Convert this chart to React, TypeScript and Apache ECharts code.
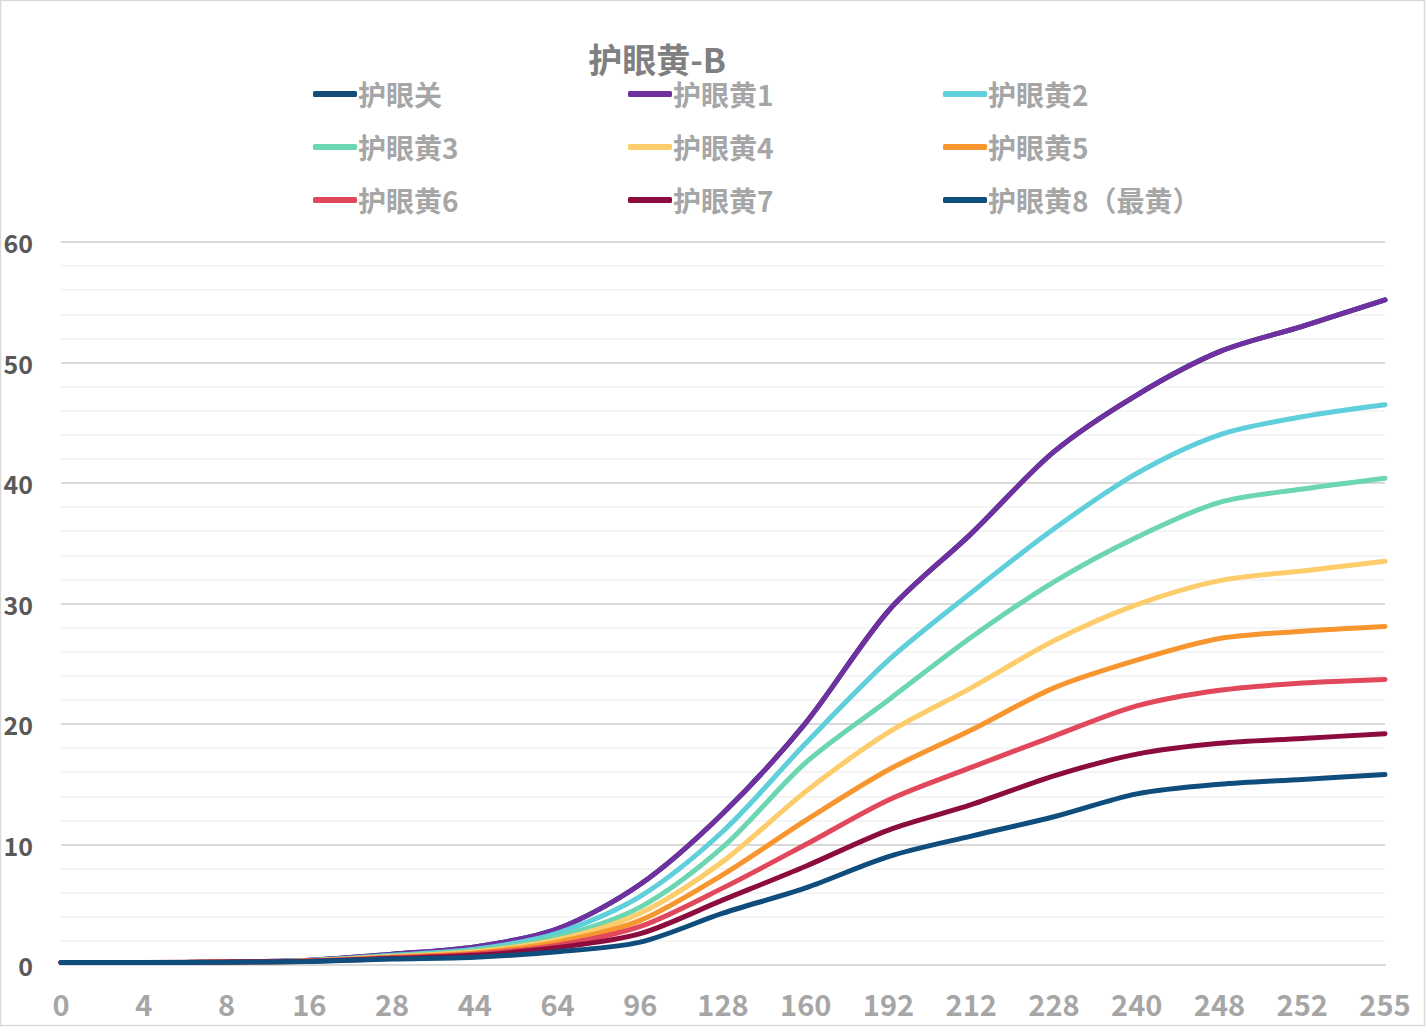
import React, { useEffect, useRef } from "react";
import * as echarts from "echarts";

const categories = ["0", "4", "8", "16", "28", "44", "64", "96", "128", "160", "192", "212", "228", "240", "248", "252", "255"];

const seriesNames = ["护眼关", "护眼黄1", "护眼黄2", "护眼黄3", "护眼黄4", "护眼黄5", "护眼黄6", "护眼黄7", "护眼黄8（最黄）"];

const offValues = [0.2, 0.2, 0.25, 0.4, 0.9, 1.5, 3.0, 6.7, 12.6, 20.1, 29.4, 35.8, 42.6, 47.3, 50.9, 53.0, 55.2];
const yellow1 = [0.2, 0.2, 0.25, 0.4, 0.9, 1.5, 3.0, 6.7, 12.6, 20.1, 29.4, 35.8, 42.6, 47.3, 50.9, 53.0, 55.2];
const yellow2 = [0.2, 0.2, 0.25, 0.38, 0.8, 1.3, 2.65, 5.7, 11.1, 18.4, 25.3, 30.9, 36.2, 40.8, 44.0, 45.5, 46.5];
const yellow3 = [0.2, 0.2, 0.25, 0.36, 0.75, 1.2, 2.35, 4.8, 9.8, 16.8, 22.0, 27.2, 31.8, 35.5, 38.4, 39.5, 40.4];
const yellow4 = [0.2, 0.2, 0.25, 0.35, 0.7, 1.1, 2.1, 4.3, 8.6, 14.4, 19.3, 23.0, 26.9, 29.9, 31.9, 32.7, 33.5];
const yellow5 = [0.2, 0.2, 0.25, 0.34, 0.65, 1.0, 1.9, 3.7, 7.5, 12.0, 16.2, 19.5, 23.0, 25.3, 27.1, 27.7, 28.1];
const yellow6 = [0.2, 0.2, 0.25, 0.33, 0.6, 0.9, 1.65, 3.2, 6.4, 10.0, 13.7, 16.4, 19.0, 21.5, 22.8, 23.4, 23.7];
const yellow7 = [0.2, 0.2, 0.25, 0.32, 0.55, 0.8, 1.45, 2.6, 5.4, 8.2, 11.2, 13.3, 15.7, 17.5, 18.4, 18.8, 19.2];
const yellow8 = [0.2, 0.2, 0.22, 0.3, 0.5, 0.65, 1.1, 1.9, 4.3, 6.4, 9.0, 10.7, 12.3, 14.2, 15.0, 15.4, 15.8];

const seriesValues = [offValues, yellow1, yellow2, yellow3, yellow4, yellow5, yellow6, yellow7, yellow8];
const seriesColors = ["#134d78", "#7030a0", "#5fcfdb", "#6cd6b0", "#fdcc6b", "#f7962f", "#e2485c", "#8c0c3e", "#0f4d7c"];

const legendColumns = [
  ["护眼关", "护眼黄3", "护眼黄6"],
  ["护眼黄1", "护眼黄4", "护眼黄7"],
  ["护眼黄2", "护眼黄5", "护眼黄8（最黄）"],
];
const legendLefts = [308, 623, 938];

const FONT = "'Noto Sans CJK SC', 'Noto Sans', sans-serif";

export default function App() {
  const ref = useRef<HTMLDivElement>(null);

  useEffect(() => {
    if (!ref.current) return;
    const chart = echarts.init(ref.current, undefined, { renderer: "svg" });

    const legends = legendColumns.map((col, i) => ({
      orient: "vertical",
      left: legendLefts[i],
      top: 75,
      data: col,
      icon: "roundRect",
      itemWidth: 44,
      itemHeight: 6,
      itemGap: 25,
      selectedMode: false,
      textStyle: {
        color: "#a6a6a6",
        fontSize: 28,
        fontWeight: "bold",
        fontFamily: FONT,
        lineHeight: 28,
        padding: [0, 0, 0, -4],
      },
    }));

    chart.setOption({
      animation: false,
      backgroundColor: "#ffffff",
      title: {
        text: "护眼黄-B",
        left: 657,
        textAlign: "center",
        top: 41,
        padding: 0,
        textStyle: {
          color: "#808080",
          fontSize: 34,
          lineHeight: 34,
          fontWeight: "bold",
          fontFamily: FONT,
        },
      },
      legend: legends,
      graphic: [
        {
          type: "rect",
          shape: { x: 0.5, y: 0.5, width: 1424, height: 1025 },
          style: { fill: "none", stroke: "#d9d9d9", lineWidth: 1.5 },
          silent: true,
        },
      ],
      grid: { left: 61, right: 41, top: 242, bottom: 63, containLabel: false },
      xAxis: {
        type: "category",
        data: categories,
        boundaryGap: false,
        axisLine: { show: true, lineStyle: { color: "#d9d9d9", width: 2 } },
        axisTick: { show: false },
        axisLabel: {
          color: "#a6a6a6",
          fontSize: 29,
          fontWeight: "bold",
          fontFamily: FONT,
          margin: 23,
          interval: 0,
        },
        splitLine: { show: false },
      },
      yAxis: {
        type: "value",
        min: 0,
        max: 60,
        interval: 10,
        axisLine: { show: false },
        axisTick: { show: false },
        axisLabel: {
          color: "#595959",
          fontSize: 25,
          fontWeight: "bold",
          fontFamily: FONT,
          margin: 28,
        },
        splitLine: { show: true, lineStyle: { color: "#d9d9d9", width: 2 } },
        minorTick: { show: false, splitNumber: 5 },
        minorSplitLine: { show: true, lineStyle: { color: "#f0f0f0", width: 1.5 } },
      },
      series: seriesNames.map((name, i) => ({
        name,
        type: "line",
        data: seriesValues[i],
        smooth: 0.3,
        symbol: "none",
        lineStyle: { color: seriesColors[i], width: 5, cap: "round" },
        itemStyle: { color: seriesColors[i] },
        z: 2 + i,
      })),
    });

    return () => chart.dispose();
  }, []);

  return (
    <div
      ref={ref}
      style={{ position: "fixed", left: 0, top: 0, width: 1426, height: 1028 }}
    />
  );
}
